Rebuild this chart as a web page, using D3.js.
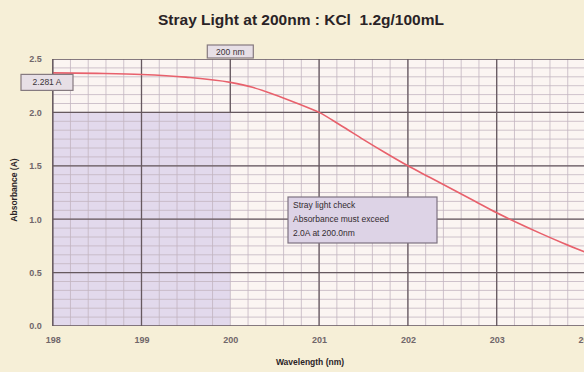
<!DOCTYPE html>
<html>
<head>
<meta charset="utf-8">
<script src="https://cdn.jsdelivr.net/npm/d3@7"></script>
<style>
  html, body { margin: 0; padding: 0; background: #f6efd7; }
  svg { display: block; }
  text { font-family: "Liberation Sans", Arial, sans-serif; }
</style>
</head>
<body>
<svg id="chart" width="584" height="372"></svg>
<script>
// Measured KCl absorbance curve
const wavelengths = [198.0, 198.5, 199.0, 199.5, 200.0, 200.25, 200.5, 200.75, 201.0, 201.25, 201.5, 201.75, 202.0, 202.25, 202.5, 202.75, 203.0, 203.25, 203.5, 203.75, 204.0];
const absorbance  = [2.37, 2.365, 2.355, 2.33, 2.281, 2.235, 2.165, 2.085, 2.0, 1.875, 1.745, 1.62, 1.50, 1.39, 1.28, 1.17, 1.06, 0.96, 0.865, 0.775, 0.69];

const xTicks = [198, 199, 200, 201, 202, 203, 204];
const yTicks = [0.0, 0.5, 1.0, 1.5, 2.0, 2.5];

const checkWavelength = 200;
const checkAbsorbance = 2.281;
const thresholdAbs = 2.0;
const noteLines = ["Stray light check", "Absorbance must exceed", "2.0A at 200.0nm"];

const svg = d3.select("#chart");
const W = 584, H = 372;
const plotLeft = 52.7, plotTop = 59, plotBottom = 326;

const x = d3.scaleLinear().domain([198, 204]).range([plotLeft, 585.5]);
const y = d3.scaleLinear().domain([0, 2.5]).range([plotBottom, plotTop]);

const clipW = W - plotLeft;

svg.append("defs").append("clipPath").attr("id", "plotClip")
  .append("rect").attr("x", plotLeft).attr("y", plotTop).attr("width", clipW).attr("height", plotBottom - plotTop);

// Title
svg.append("text")
  .attr("x", 301).attr("y", 25)
  .attr("text-anchor", "middle")
  .style("white-space", "pre")
  .attr("font-size", 15.5).attr("font-weight", "bold").attr("fill", "#2a2326")
  .text("Stray Light at 200nm : KCl  1.2g/100mL");

const plot = svg.append("g").attr("clip-path", "url(#plotClip)");

// Plot background
plot.append("rect")
  .attr("x", plotLeft).attr("y", plotTop).attr("width", clipW).attr("height", plotBottom - plotTop)
  .attr("fill", "#fbf5f2");

// Region below the threshold, left of the check wavelength
plot.append("rect")
  .attr("x", x(198)).attr("y", y(thresholdAbs))
  .attr("width", x(checkWavelength) - x(198)).attr("height", y(0) - y(thresholdAbs))
  .attr("fill", "#e2d9ec");

// Minor grid
const minorX = d3.range(198, 204.001, 0.2);
const minorY = d3.range(0, 2.5001, 0.5 / 6);
plot.append("g").selectAll("line").data(minorX).join("line")
  .attr("x1", d => x(d)).attr("x2", d => x(d))
  .attr("y1", plotTop).attr("y2", plotBottom)
  .attr("stroke", "#c3b5c0").attr("stroke-width", 0.8);
plot.append("g").selectAll("line").data(minorY).join("line")
  .attr("x1", plotLeft).attr("x2", W)
  .attr("y1", d => y(d)).attr("y2", d => y(d))
  .attr("stroke", "#c3b5c0").attr("stroke-width", 0.8);

// Major grid
plot.append("g").selectAll("line").data(xTicks.filter(d => d !== checkWavelength)).join("line")
  .attr("x1", d => x(d)).attr("x2", d => x(d))
  .attr("y1", plotTop).attr("y2", plotBottom)
  .attr("stroke", "#66595f").attr("stroke-width", 1.3);
plot.append("g").selectAll("line").data(yTicks).join("line")
  .attr("x1", plotLeft).attr("x2", W)
  .attr("y1", d => y(d)).attr("y2", d => y(d))
  .attr("stroke", "#66595f").attr("stroke-width", 1.3);

// Check wavelength marker
plot.append("line")
  .attr("x1", x(checkWavelength)).attr("x2", x(checkWavelength))
  .attr("y1", plotTop).attr("y2", y(thresholdAbs))
  .attr("stroke", "#66595f").attr("stroke-width", 1.3);

// Absorbance curve
plot.append("path")
  .datum(wavelengths.map((w, i) => [w, absorbance[i]]))
  .attr("fill", "none")
  .attr("stroke", "#e8616c").attr("stroke-width", 1.6)
  .attr("d", d3.line().x(d => x(d[0])).y(d => y(d[1])).curve(d3.curveMonotoneX));

// Plot frame (left edge)
svg.append("line").attr("x1", plotLeft).attr("x2", plotLeft).attr("y1", plotTop).attr("y2", plotBottom)
  .attr("stroke", "#66595f").attr("stroke-width", 1.3);

// Axes
const xAxis = d3.axisBottom(x).tickValues(xTicks).tickSize(0).tickFormat(d3.format("d"));
const gx = svg.append("g").attr("transform", `translate(0,${plotBottom})`).call(xAxis);
gx.select(".domain").remove();
gx.selectAll("text").attr("dy", "1.6em").attr("font-size", 9).attr("font-weight", "bold")
  .attr("fill", "#70666a").attr("font-family", "Liberation Sans, Arial, sans-serif");

const yAxis = d3.axisLeft(y).tickValues(yTicks).tickSize(0).tickFormat(d3.format(".1f"));
const gy = svg.append("g").attr("transform", `translate(${plotLeft - 8},0)`).call(yAxis);
gy.select(".domain").remove();
gy.selectAll("text").attr("font-size", 9).attr("font-weight", "bold")
  .attr("fill", "#70666a").attr("font-family", "Liberation Sans, Arial, sans-serif");

// Axis titles
svg.append("text")
  .attr("x", 310).attr("y", 365).attr("text-anchor", "middle")
  .attr("font-size", 8.5).attr("font-weight", "bold").attr("fill", "#2a2326")
  .text("Wavelength (nm)");
svg.append("text")
  .attr("transform", "translate(17,190) rotate(-90)")
  .attr("text-anchor", "middle")
  .attr("font-size", 8.5).attr("font-weight", "bold").attr("fill", "#2a2326")
  .text("Absorbance (A)");

// Label boxes
function labelBox(cx, cy, w, h, txt) {
  const g = svg.append("g");
  g.append("rect").attr("x", cx - w / 2).attr("y", cy - h / 2).attr("width", w).attr("height", h)
    .attr("fill", "#e7dfe6").attr("stroke", "#85797f").attr("stroke-width", 1.2);
  g.append("text").attr("x", cx).attr("y", cy + 3).attr("text-anchor", "middle")
    .attr("font-size", 8.5).attr("fill", "#3a3236").text(txt);
}
labelBox(x(checkWavelength), 51.5, 46, 13, `${checkWavelength} nm`);
labelBox(47, y(checkAbsorbance), 52, 16, `${checkAbsorbance} A`);

// Note box
const note = svg.append("g");
note.append("rect").attr("x", 288).attr("y", 197).attr("width", 149).attr("height", 46)
  .attr("fill", "#ddd3e6").attr("stroke", "#7d7280").attr("stroke-width", 1.2);
note.selectAll("text").data(noteLines).join("text")
  .attr("x", 293).attr("y", (d, i) => 208 + i * 14)
  .attr("font-size", 8.5).attr("fill", "#332b30").text(d => d);
</script>
</body>
</html>
